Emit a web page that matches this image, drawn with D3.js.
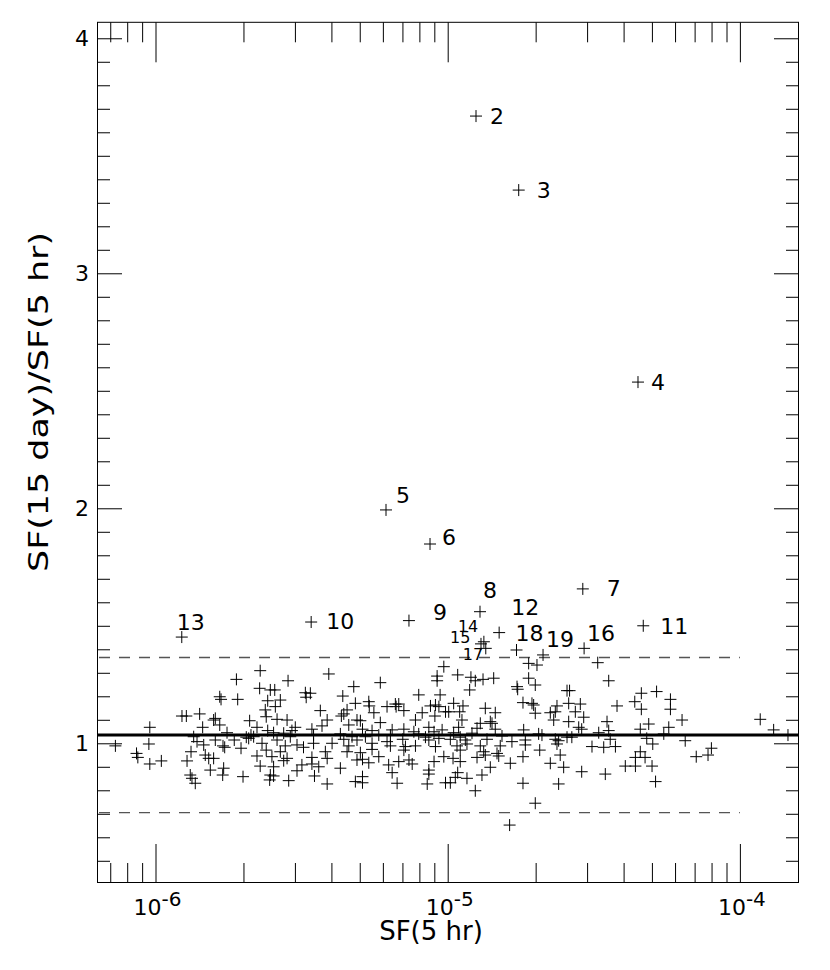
<!DOCTYPE html>
<html><head><meta charset="utf-8">
<script src="https://cdn.jsdelivr.net/npm/d3@7"></script>
<style>body{margin:0;background:#fff}</style>
</head><body><svg id="chart" width="830" height="970"></svg>
<script>
// ---------- data: [SF(5 hr), SF(15 day)/SF(5 hr)] ----------
const pointsLowSF = [[7.29e-7,0.989],[8.61e-7,0.957],[8.70e-7,0.940],[9.56e-7,1.068],[9.49e-7,0.997],[9.56e-7,0.912],[1.047e-6,0.925],[1.232e-6,1.116],[1.275e-6,1.116],[1.416e-6,1.125],[1.450e-6,1.068],[1.282e-6,0.925],[1.323e-6,0.964],[1.351e-6,1.028],[1.387e-6,1.007],[1.315e-6,0.865],[1.333e-6,0.851],[1.368e-6,0.830],[1.462e-6,0.993],[1.480e-6,0.950],[1.521e-6,0.936],[1.540e-6,0.886],[1.581e-6,0.936],[1.602e-6,1.014],[1.602e-6,1.106],[1.581e-6,1.099],[1.659e-6,1.198],[1.676e-6,1.187],[1.659e-6,1.078],[1.702e-6,0.989],[1.725e-6,0.983],[1.711e-6,0.894],[1.698e-6,0.865],[1.757e-6,1.045],[1.860e-6,1.014],[1.892e-6,1.272],[1.911e-6,1.187],[1.962e-6,0.979],[1.993e-6,0.858],[2.045e-6,1.026],[2.084e-6,1.021],[2.100e-6,1.096],[2.122e-6,1.035],[2.167e-6,1.028],[2.225e-6,1.068],[2.282e-6,1.309],[2.272e-6,1.234],[2.225e-6,0.946],[2.282e-6,0.903],[2.315e-6,1.000],[2.375e-6,1.142],[2.393e-6,1.113],[2.421e-6,1.181],[2.421e-6,1.054],[2.393e-6,0.971],[2.471e-6,1.227],[2.471e-6,0.865],[2.459e-6,0.844]];
const pointsMidSF = [[9.70e-6,1.326],[9.20e-6,1.286],[9.20e-6,1.266],[3.918e-6,1.295],[2.842e-6,1.266],[5.88e-6,1.258],[4.77e-6,1.241],[2.559e-6,1.227],[3.257e-6,1.215],[3.388e-6,1.213],[3.279e-6,1.196],[4.375e-6,1.201],[7.96e-6,1.206],[9.42e-6,1.206],[2.674e-6,1.184],[2.571e-6,1.156],[4.831e-6,1.170],[5.37e-6,1.177],[5.39e-6,1.159],[6.62e-6,1.167],[6.80e-6,1.167],[6.66e-6,1.156],[7.08e-6,1.139],[6.20e-6,1.156],[8.73e-6,1.159],[9.08e-6,1.163],[9.33e-6,1.156],[9.83e-6,1.134],[3.665e-6,1.139],[4.525e-6,1.142],[4.41e-6,1.125],[5.59e-6,1.130],[8.18e-6,1.130],[9.04e-6,1.116],[3.868e-6,1.099],[2.606e-6,1.102],[2.820e-6,1.099],[4.893e-6,1.099],[5.025e-6,1.096],[4.326e-6,1.116],[7.756e-6,1.099],[5.88e-6,1.088],[3.714e-6,1.074],[3.009e-6,1.068],[2.93e-6,1.054],[3.43e-6,1.060],[4.586e-6,1.078],[5.11e-6,1.060],[5.51e-6,1.054],[6.455e-6,1.057],[7.08e-6,1.060],[7.66e-6,1.049],[8.62e-6,1.068],[8.98e-6,1.049],[9.57e-6,1.057],[2.536e-6,1.045],[2.746e-6,1.043],[3.475e-6,1.035],[4.292e-6,1.040],[4.706e-6,1.028],[5.228e-6,1.028],[5.81e-6,1.035],[6.367e-6,1.035],[7.96e-6,1.040],[8.392e-6,1.026],[2.606e-6,1.014],[2.893e-6,1.028],[4.021e-6,1.000],[4.41e-6,1.017],[4.893e-6,1.014],[5.51e-6,1.000],[6.20e-6,1.007],[7.02e-6,1.017],[8.62e-6,1.014],[9.33e-6,1.021],[2.78e-6,0.989],[3.05e-6,0.993],[3.21e-6,0.983],[3.475e-6,1.000],[4.586e-6,0.989],[5.51e-6,0.974],[6.367e-6,0.989],[7.168e-6,0.986],[7.756e-6,0.989],[9.08e-6,0.986],[2.674e-6,0.964],[3.813e-6,0.964],[4.525e-6,0.964],[5.025e-6,0.960],[7.08e-6,0.971],[2.503e-6,0.943],[2.82e-6,0.936],[3.43e-6,0.940],[3.868e-6,0.936],[4.893e-6,0.929],[5.11e-6,0.932],[5.81e-6,0.943],[6.28e-6,0.908],[6.80e-6,0.922],[7.37e-6,0.929],[8.98e-6,0.922],[9.70e-6,0.943],[2.746e-6,0.926],[3.17e-6,0.908],[3.43e-6,0.912],[3.62e-6,0.900],[2.536e-6,0.900],[5.37e-6,0.917],[7.56e-6,0.912],[3.05e-6,0.883],[4.292e-6,0.894],[6.455e-6,0.875],[8.62e-6,0.886],[8.62e-6,0.869],[3.50e-6,0.861],[5.11e-6,0.858],[2.536e-6,0.861],[2.857e-6,0.841],[4.831e-6,0.837],[5.11e-6,0.832],[3.868e-6,0.827],[6.713e-6,0.830],[8.51e-6,0.827],[9.83e-6,0.832]];
const pointsHighSF = [[1.893e-5,1.340],[2.021e-5,1.333],[3.262e-5,1.343],[1.082e-5,1.291],[1.201e-5,1.281],[1.243e-5,1.266],[1.321e-5,1.272],[1.437e-5,1.277],[1.189e-5,1.227],[1.893e-5,1.277],[1.994e-5,1.248],[1.727e-5,1.241],[1.736e-5,1.230],[3.557e-5,1.266],[2.561e-5,1.224],[2.613e-5,1.224],[1.048e-5,1.170],[1.128e-5,1.159],[1.345e-5,1.149],[1.81e-5,1.173],[1.943e-5,1.170],[1.969e-5,1.163],[2.366e-5,1.159],[2.595e-5,1.170],[2.844e-5,1.167],[3.798e-5,1.159],[1.008e-5,1.134],[1.099e-5,1.134],[1.455e-5,1.130],[1.994e-5,1.128],[2.245e-5,1.130],[2.335e-5,1.134],[2.734e-5,1.134],[1.119e-5,1.099],[1.399e-5,1.092],[1.418e-5,1.085],[1.293e-5,1.085],[2.306e-5,1.099],[2.595e-5,1.092],[2.921e-5,1.111],[3.51e-5,1.092],[1.090e-5,1.068],[1.260e-5,1.064],[1.455e-5,1.060],[1.820e-5,1.057],[2.808e-5,1.068],[2.875e-5,1.060],[3.288e-5,1.045],[3.557e-5,1.054],[1.048e-5,1.045],[1.211e-5,1.043],[1.534e-5,1.031],[2.048e-5,1.040],[2.102e-5,1.035],[1.021e-5,1.017],[1.104e-5,1.026],[1.149e-5,1.014],[1.363e-5,1.017],[1.659e-5,1.007],[1.844e-5,1.014],[2.335e-5,1.017],[2.397e-5,1.011],[2.561e-5,1.026],[2.66e-5,1.026],[3.60e-5,1.017],[1.076e-5,0.989],[1.164e-5,0.997],[1.293e-5,0.989],[1.513e-5,0.989],[1.844e-5,0.993],[2.366e-5,0.997],[3.118e-5,0.986],[3.42e-5,0.983],[3.75e-5,0.986],[1.104e-5,0.971],[1.328e-5,0.964],[1.475e-5,0.957],[2.065e-5,0.971],[1.043e-5,0.936],[1.260e-5,0.940],[1.345e-5,0.950],[1.495e-5,0.946],[1.81e-5,0.943],[2.427e-5,0.950],[1.104e-5,0.922],[1.638e-5,0.915],[2.245e-5,0.915],[2.494e-5,0.898],[1.399e-5,0.898],[2.875e-5,0.879],[3.463e-5,0.869],[1.082e-5,0.875],[1.310e-5,0.865],[1.021e-5,0.832],[1.164e-5,0.851],[1.062e-5,0.855],[1.81e-5,0.830],[2.397e-5,0.827],[1.243e-5,0.798],[1.994e-5,0.745],[1.629e-5,0.652]];
const pointsTopSF = [[4.60e-5,1.213],[5.187e-5,1.220],[4.368e-5,1.177],[4.60e-5,1.145],[5.785e-5,1.187],[5.785e-5,1.145],[6.34e-5,1.099],[4.876e-5,1.082],[4.562e-5,1.060],[5.71e-5,1.068],[5.49e-5,1.040],[4.80e-5,1.021],[6.50e-5,1.011],[5.033e-5,0.997],[4.562e-5,0.964],[4.39e-5,0.940],[4.737e-5,0.940],[7.99e-5,0.979],[7.78e-5,0.950],[7.09e-5,0.943],[4.054e-5,0.903],[4.39e-5,0.903],[5.005e-5,0.903],[5.146e-5,0.837],[1.174e-4,1.102],[1.305e-4,1.057],[1.461e-4,1.035]];
// labelled variable sources
const labelNames   = ["2","3","4","5","6","7","8","9","10","11","12","13","14","15","17","18","19","16"];
const labelledSF   = [1.25e-5,1.75e-5,4.48e-5,6.15e-6,8.70e-6,2.90e-5,1.29e-5,7.37e-6,3.41e-6,4.67e-5,1.50e-5,1.23e-6,1.33e-5,1.30e-5,1.35e-5,1.72e-5,2.12e-5,2.93e-5];
const labelledRatio= [3.669,3.354,2.537,1.993,1.848,1.657,1.560,1.522,1.516,1.500,1.471,1.452,1.432,1.423,1.404,1.397,1.376,1.404];
// reference lines
const meanRatio = 1.035, bandUpper = 1.365, bandLower = 0.705, bandEndSF = 1e-4;
// tick labels
const xMajorTicks = [1e-6, 1e-5, 1e-4];
const xTickExponents = ["-6", "-5", "-4"];
const yMajorTicks = [1, 2, 3, 4];
const yTickLabels = ["1", "2", "3", "4"];
const xTitle = "SF(5 hr)", yTitle = "SF(15 day)/SF(5 hr)";

// ---------- layout ----------
const L = 97, R = 799, T = 22.3, B = 883;
const font = "DejaVu Sans";
const labelLayout = { // pixel offsets of label text from its point, font size
  "2":[14,8,22],"3":[18,8,22],"4":[13,8,22],"5":[10,-7,22],"6":[12,1,22],"7":[24,7,22],"8":[3,-14,22],
  "9":[24,-1,22],"10":[15,7,22],"11":[17,8,22],"12":[12,-18,22],"13":[-5,-7,22],"14":[-26,-10,16],
  "15":[-31,-1,16],"17":[-23,12,16],"18":[-1,-9,22],"19":[3,-8,22],"16":[3,-7,22]
};

const svg = d3.select("#chart");
const x = d3.scaleLog().domain([6.306e-7, 1.5935e-4]).range([L, R]);
const y = d3.scaleLinear().domain([0.4055, 4.068]).range([B, T]);

const minorX = [];
for (let e = -7; e <= -4; e++) for (let m = 2; m <= 9; m++) {
  const v = m * Math.pow(10, e);
  if (v > x.domain()[0] && v < x.domain()[1]) minorX.push(v);
}
const minorY = d3.range(5, 41).map(i => i / 10).filter(v => !yMajorTicks.includes(v));

const g = svg.append("g");
function addAxis(axis, tx, ty) {
  const a = g.append("g").attr("transform", `translate(${tx},${ty})`).call(axis);
  a.select(".domain").remove();
  a.selectAll("text").remove();
  a.selectAll("line").attr("stroke", "#000").attr("stroke-width", 1);
}
// bottom (ticks upward), top (ticks downward)
addAxis(d3.axisTop(x).tickValues(minorX).tickSize(20), 0, B);
addAxis(d3.axisTop(x).tickValues(xMajorTicks).tickSize(39), 0, B);
addAxis(d3.axisBottom(x).tickValues(minorX).tickSize(20), 0, T);
addAxis(d3.axisBottom(x).tickValues(xMajorTicks).tickSize(40), 0, T);
// left (ticks right), right (ticks left)
addAxis(d3.axisRight(y).tickValues(minorY).tickSize(13), L, 0);
addAxis(d3.axisRight(y).tickValues(yMajorTicks).tickSize(25), L, 0);
addAxis(d3.axisLeft(y).tickValues(minorY).tickSize(13), R, 0);
addAxis(d3.axisLeft(y).tickValues(yMajorTicks).tickSize(25), R, 0);

// frame
g.append("rect").attr("x", L + 0.5).attr("y", T).attr("width", R - L - 1).attr("height", B - T - 0.5)
  .attr("fill", "none").attr("stroke", "#000").attr("stroke-width", 1);

// reference lines
g.append("line").attr("x1", x(x.domain()[0])).attr("x2", x(x.domain()[1]))
  .attr("y1", y(meanRatio)).attr("y2", y(meanRatio)).attr("stroke", "#000").attr("stroke-width", 3);
[bandUpper, bandLower].forEach(v => {
  g.append("line").attr("x1", x(x.domain()[0]) + 2).attr("x2", x(bandEndSF))
    .attr("y1", y(v)).attr("y2", y(v)).attr("stroke", "#555").attr("stroke-width", 1.3)
    .attr("stroke-dasharray", "11,9");
});

// points
const allPoints = pointsLowSF.concat(pointsMidSF, pointsHighSF, pointsTopSF,
  labelledSF.map((v, i) => [v, labelledRatio[i]]));
const s = 6;
g.append("path")
  .attr("d", allPoints.map(([a, b]) => {
    const px = x(a), py = y(b);
    return `M${px - s},${py}H${px + s}M${px},${py - s}V${py + s}`;
  }).join(""))
  .attr("stroke", "#000").attr("stroke-width", 1).attr("fill", "none");

// point labels
labelNames.forEach((name, i) => {
  const [dx, dy, fs] = labelLayout[name];
  g.append("text").attr("x", x(labelledSF[i]) + dx).attr("y", y(labelledRatio[i]) + dy)
    .attr("font-family", font).attr("font-size", fs).attr("fill", "#000").text(name);
});

// tick labels
xMajorTicks.forEach((v, i) => {
  const t = g.append("text").attr("x", x(v) + 2).attr("y", 915).attr("text-anchor", "middle")
    .attr("font-family", font).attr("font-size", 22).attr("fill", "#000");
  t.append("tspan").text("10");
  t.append("tspan").attr("dy", -9).attr("font-size", 20).text(xTickExponents[i]);
});
yMajorTicks.forEach((v, i) => {
  g.append("text").attr("x", 89).attr("y", y(v) + 8).attr("text-anchor", "end")
    .attr("font-family", font).attr("font-size", 22).attr("fill", "#000").text(yTickLabels[i]);
});

// axis titles
g.append("text").attr("x", 431).attr("y", 940).attr("text-anchor", "middle")
  .attr("font-family", font).attr("font-size", 26).attr("fill", "#000").text(xTitle);
g.append("text").attr("transform", "translate(48,402) rotate(-90)").attr("text-anchor", "middle")
  .attr("font-family", font).attr("font-size", 26).attr("fill", "#000")
  .attr("textLength", 340).attr("lengthAdjust", "spacingAndGlyphs").text(yTitle);
</script></body></html>
